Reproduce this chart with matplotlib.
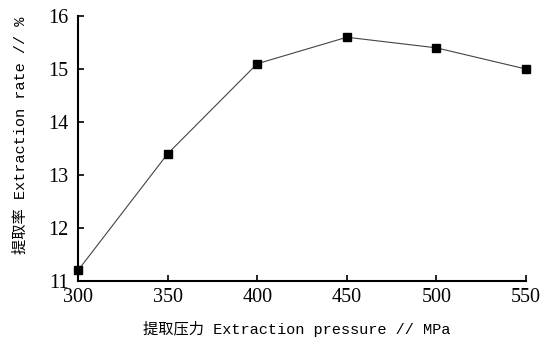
import matplotlib
matplotlib.use("Agg")
import matplotlib.pyplot as plt

# Extraction pressure (MPa) vs extraction rate (%)
pressure = [300, 350, 400, 450, 500, 550]
rate = [11.2, 13.4, 15.1, 15.6, 15.4, 15.0]
xticks = [300, 350, 400, 450, 500, 550]
yticks = [11, 12, 13, 14, 15, 16]

label_font = ["Liberation Mono", "Noto Sans CJK SC"]
tick_font = "Liberation Serif"

fig = plt.figure(figsize=(5.51, 3.45), dpi=100)
ax = fig.add_axes([0.1416, 0.1855, 0.813, 0.768])

ax.plot(pressure, rate, color="#444444", linewidth=0.8,
        marker="s", markersize=6, markerfacecolor="black",
        markeredgecolor="black", clip_on=False, zorder=3)

ax.set_xlim(300, 550)
ax.set_ylim(11, 16)
ax.set_xticks(xticks)
ax.set_yticks(yticks)

for side in ("top", "right"):
    ax.spines[side].set_visible(False)
for side in ("left", "bottom"):
    ax.spines[side].set_linewidth(1.5)

ax.tick_params(direction="in", length=4, width=1.2, labelsize=14.5)
ax.tick_params(axis="x", pad=5)
ax.tick_params(axis="y", pad=7)
for lab in ax.get_xticklabels() + ax.get_yticklabels():
    lab.set_family(tick_font)

ax.set_xlabel("提取压力 Extraction pressure // MPa", family=label_font,
              fontsize=11, va="center")
ax.set_ylabel("提取率 Extraction rate // %", family=label_font,
              fontsize=11, va="center")
ax.xaxis.set_label_coords(0.489, -0.181)
ax.yaxis.set_label_coords(-0.129, 0.551)

fig.savefig("out.png", dpi=100)
